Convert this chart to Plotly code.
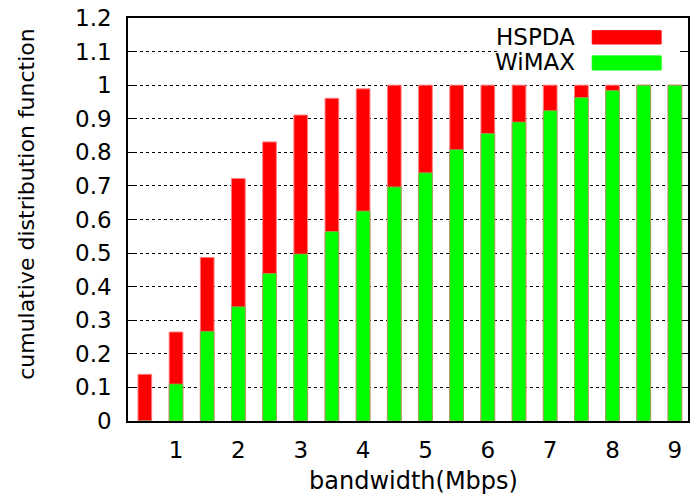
import plotly.graph_objects as go

# Bandwidth bins (Mbps) and cumulative distribution values per network
bandwidth = [0.5, 1.0, 1.5, 2.0, 2.5, 3.0, 3.5, 4.0, 4.5,
             5.0, 5.5, 6.0, 6.5, 7.0, 7.5, 8.0, 8.5, 9.0]
hspda_cdf = [0.139, 0.265, 0.487, 0.722, 0.831, 0.911, 0.961, 0.989, 1.0,
             1.0, 1.0, 1.0, 1.0, 1.0, 1.0, 1.0, 1.0, 1.0]
wimax_cdf = [0.0, 0.110, 0.267, 0.340, 0.439, 0.497, 0.564, 0.625, 0.697,
             0.739, 0.808, 0.856, 0.890, 0.924, 0.963, 0.984, 1.0, 1.0]

x_ticks = [1, 2, 3, 4, 5, 6, 7, 8, 9]
y_ticks = [0, 0.1, 0.2, 0.3, 0.4, 0.5, 0.6, 0.7, 0.8, 0.9, 1.0, 1.1, 1.2]
y_tick_text = ["0", "0.1", "0.2", "0.3", "0.4", "0.5", "0.6", "0.7",
               "0.8", "0.9", "1", "1.1", "1.2"]

FONT = "DejaVu Sans"
RED = "#ff0000"
GREEN = "#00ff00"

fig = go.Figure()
fig.add_trace(go.Bar(x=bandwidth, y=hspda_cdf, name="HSPDA", width=0.22,
                     marker=dict(color=RED, line=dict(color="#ff8080", width=1))))
fig.add_trace(go.Bar(x=bandwidth, y=wimax_cdf, name="WiMAX", width=0.22,
                     marker=dict(color=GREEN, line=dict(color="#a0a060", width=0.8))))

# key box in the upper right: label text on the left, colour swatch on the right
fig.add_shape(type="rect", xref="paper", yref="paper", x0=0.662, x1=0.982,
              y0=0.85, y1=0.995, fillcolor="white", line=dict(width=0), layer="above")
keys = [("HSPDA", RED, 0.9685, 0.9355, 0.953),
        ("WiMAX", GREEN, 0.906, 0.871, 0.891)]
for label, color, y1, y0, yt in keys:
    fig.add_shape(type="rect", xref="paper", yref="paper", x0=0.829, x1=0.952,
                  y0=y0, y1=y1, fillcolor=color, line=dict(color=color, width=1),
                  layer="above")
    fig.add_annotation(text=label, xref="paper", yref="paper", x=0.8025, y=yt,
                       xanchor="right", yanchor="middle", showarrow=False,
                       font=dict(family=FONT, size=23, color="black"))

# axis titles
fig.add_annotation(text="bandwidth(Mbps)", xref="paper", yref="paper",
                   x=0.509, y=-0.149, xanchor="center", yanchor="middle",
                   showarrow=False, font=dict(family=FONT, size=24, color="black"))
fig.add_annotation(text="cumulative distribution function", xref="paper", yref="paper",
                   x=-0.181, y=0.538, xanchor="center", yanchor="middle", textangle=-90,
                   showarrow=False, font=dict(family=FONT, size=22, color="black"))

fig.update_layout(
    width=691, height=500,
    margin=dict(l=128, r=1, t=18, b=79),
    paper_bgcolor="white", plot_bgcolor="white",
    barmode="overlay", showlegend=False,
    font=dict(family=FONT, size=23, color="black"),
)
fig.update_xaxes(
    range=[0.23, 9.21], tickvals=x_ticks, ticktext=[str(v) for v in x_ticks],
    showgrid=False, zeroline=False, showline=True, linecolor="black", linewidth=1.5,
    mirror=True, ticks="", ticklabelstandoff=8,
)
fig.update_yaxes(
    range=[0, 1.20001], tickvals=y_ticks, ticktext=y_tick_text,
    showgrid=True, gridcolor="black", gridwidth=1, griddash="dot",
    zeroline=False, showline=True, linecolor="black", linewidth=1.5,
    mirror="allticks", ticks="inside", ticklen=6, tickcolor="black",
    ticklabelstandoff=10,
)

fig.write_html("out.html")
